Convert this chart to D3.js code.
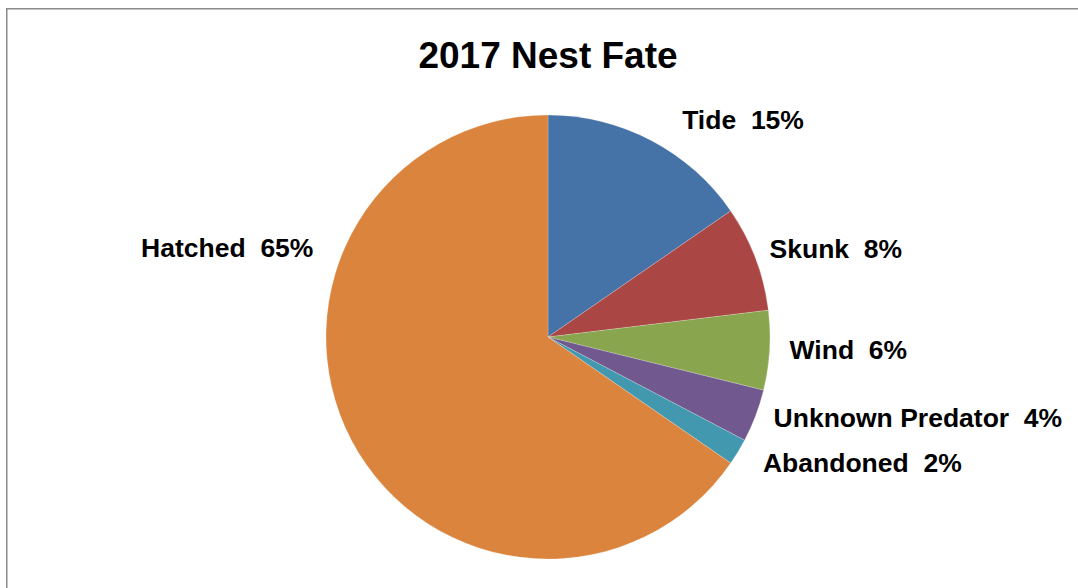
<!DOCTYPE html>
<html>
<head>
<meta charset="utf-8">
<script src="https://cdn.jsdelivr.net/npm/d3@7"></script>
<style>
  html, body { margin: 0; padding: 0; background: #fff; }
  text { font-family: "Liberation Sans", Arial, sans-serif; font-weight: bold; fill: #000; white-space: pre; }
</style>
</head>
<body>
<script>
// nest counts (52 nests total)
let categories = ["Tide", "Skunk", "Wind", "Unknown Predator", "Abandoned", "Hatched"];
let counts = [8, 4, 3, 2, 1, 34];
let colors = ["#4572A7", "#AA4643", "#89A54E", "#71588F", "#4198AF", "#DB843D"];
let title = "2017 Nest Fate";

let width = 1078,
    height = 588,
    cx = 548,   //圆心
    cy = 337,
    r = 222;

// label nudges from the rim point at each slice's mid angle (excel best fit)
let labelNudge = [[31, -11], [14, 0], [20, 8.5], [18, 11], [25, 20], [-38, -183]];

let svg = d3.select('body')
    .append('svg')
    .attr('width', width)
    .attr('height', height);

// chart area border (runs off the right/bottom of the picture)
svg.append('rect')
    .attr('x', 6.75)
    .attr('y', 8.75)
    .attr('width', width + 20)
    .attr('height', height + 20)
    .attr('fill', 'none')
    .attr('stroke', '#8a8a8a')
    .attr('stroke-width', 1.5);

svg.append('text')
    .attr('x', cx)
    .attr('y', 68.3)
    .attr('text-anchor', 'middle')
    .style('font-size', '37px')
    .text(title);

let data = categories.map(function(c, i) {
    return { name: c, value: counts[i], color: colors[i], i: i };
});
let total = d3.sum(counts);

let pie = d3.pie().sort(null).value(function(d) { return d.value; });
let arc = d3.arc().innerRadius(0).outerRadius(r);
let arcs = pie(data);

let g = svg.append('g').attr('transform', `translate(${cx},${cy})`);
g.selectAll('path')
    .data(arcs)
    .enter()
    .append('path')
    .attr('d', arc)
    .attr('fill', function(d) { return d.data.color; })
    .attr('stroke', 'rgba(255,255,255,0.35)')
    .attr('stroke-width', 0.6);

g.selectAll('text')
    .data(arcs)
    .enter()
    .append('text')
    .attr('x', function(d) {
        let a = (d.startAngle + d.endAngle) / 2;
        return r * Math.sin(a) + labelNudge[d.data.i][0];
    })
    .attr('y', function(d) {
        let a = (d.startAngle + d.endAngle) / 2;
        return -r * Math.cos(a) + labelNudge[d.data.i][1];
    })
    .attr('text-anchor', function(d) {
        return (d.startAngle + d.endAngle) / 2 > Math.PI ? 'end' : 'start';
    })
    .style('font-size', '26.5px')
    .text(function(d) {
        return d.data.name + "  " + Math.round(d.data.value / total * 100) + "%";
    });
</script>
</body>
</html>
